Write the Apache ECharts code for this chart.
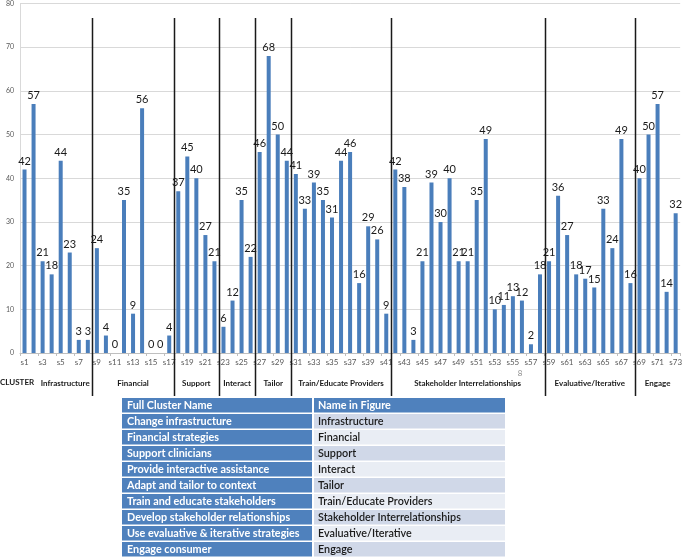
<!DOCTYPE html>
<html>
<head>
<meta charset="utf-8">
<script src="https://cdn.jsdelivr.net/npm/echarts@6/dist/echarts.min.js"></script>
<style>
html, body { margin: 0; padding: 0; background: #fff; }
#main { width: 685px; height: 557px; }
</style>
</head>
<body>
<div id="main"></div>
<script>
// strategy ids s1..s73
const categories = []
for (let i = 1; i <= 73; i++) categories.push('s' + i)

// counts per strategy
const values = [
  42, 57, 21, 18, 44, 23, 3, 3,
  24, 4, 0, 35, 9, 56, 0, 0, 4,
  37, 45, 40, 27, 21,
  6, 12, 35, 22,
  46, 68, 50, 44,
  41, 33, 39, 35, 31, 44, 46, 16, 29, 26, 9,
  42, 38, 3, 21, 39, 30, 40, 21, 21, 35, 49, 10, 11, 13, 12, 2, 18,
  21, 36, 27, 18, 17, 15, 33, 24, 49, 16,
  40, 50, 57, 14, 32
]

const clusterNames = ['Infrastructure', 'Financial', 'Support', 'Interact', 'Tailor',
  'Train/Educate Providers', 'Stakeholder Interrelationships', 'Evaluative/Iterative', 'Engage']
const clusterSizes = [8, 9, 5, 4, 4, 11, 17, 10, 5]
const fullNames = ['Change infrastructure', 'Financial strategies', 'Support clinicians',
  'Provide interactive assistance', 'Adapt and tailor to context', 'Train and educate stakeholders',
  'Develop stakeholder relationships', 'Use evaluative & iterative strategies', 'Engage consumer']

const yTicks = [0, 10, 20, 30, 40, 50, 60, 70, 80]

const chartDom = document.getElementById('main')
const myChart = echarts.init(chartDom)

const option = {
  animation: false,
  backgroundColor: '#fff',
  grid: { left: 20, right: 0, top: 3, bottom: 204 },
  xAxis: {
    type: 'category',
    data: categories,
    axisLine: { lineStyle: { color: '#bfbfbf' } },
    axisTick: { show: true, length: 3, lineStyle: { color: '#bfbfbf' } },
    axisLabel: { interval: 1, fontSize: 8, color: '#595959', margin: 5, fontFamily: 'Lato' }
  },
  yAxis: {
    type: 'value',
    min: yTicks[0],
    max: yTicks[yTicks.length - 1],
    interval: 10,
    axisLine: { show: true, lineStyle: { color: '#d9d9d9' } },
    axisTick: { show: false },
    axisLabel: { fontSize: 7, color: '#595959', margin: 6, fontFamily: 'Lato' },
    splitLine: { lineStyle: { color: '#d9d9d9' } }
  },
  series: [
    {
      type: 'bar',
      data: values,
      barWidth: 4,
      itemStyle: { color: '#4a7ebb' },
      label: {
        show: true,
        position: 'top',
        distance: 3,
        fontSize: 11,
        color: '#1a1a1a',
        fontFamily: 'Lato'
      }
    }
  ]
}
myChart.setOption(option)

// separators, cluster names and the legend table
const px = (i) => myChart.convertToPixel({ xAxisIndex: 0 }, categories[i])
const graphic = []
let start = 0
const lineTop = 18
const lineBottom = 396
const labelY = 383
graphic.push({
  type: 'text', left: 0, top: labelY - 5,
  style: { text: 'CLUSTER', font: 'bold 8px Lato', fill: '#1a1a1a' }
})
clusterSizes.forEach((n, k) => {
  const end = start + n
  let cx = (px(start) + px(end - 1)) / 2
  if (k === 0) cx = (38 + (px(end - 1) + px(end)) / 2) / 2
  graphic.push({
    type: 'text', x: cx, y: labelY,
    style: { text: clusterNames[k], font: 'bold 8px Lato', fill: '#1a1a1a', align: 'center', verticalAlign: 'middle' }
  })
  if (k < clusterSizes.length - 1) {
    const bx = Math.round((px(end - 1) + px(end)) / 2) + 0.5
    graphic.push({
      type: 'line', z: 10,
      shape: { x1: bx, y1: lineTop, x2: bx, y2: lineBottom },
      style: { stroke: '#1a1a1a', lineWidth: 1.5 }
    })
  }
  start = end
})
graphic.push({
  type: 'text', x: 520, y: 373,
  style: { text: '8', font: '8px Lato', fill: '#8c8c8c', align: 'center', verticalAlign: 'middle' }
})

// table
const tLeft = 122
const tMid = 313
const tRight = 505
const tTop = 398
const rowH = 16
const rows = [['Full Cluster Name', 'Name in Figure']].concat(fullNames.map((f, i) => [f, clusterNames[i]]))
rows.forEach((r, i) => {
  const y = tTop + i * rowH
  const rightFill = i === 0 ? '#4f81bd' : (i % 2 === 1 ? '#d0d8e8' : '#e9edf4')
  graphic.push({ type: 'rect', shape: { x: tLeft, y: y, width: tMid - tLeft - 1, height: rowH - 1.5 }, style: { fill: '#4f81bd' } })
  graphic.push({ type: 'rect', shape: { x: tMid + 1, y: y, width: tRight - tMid - 1, height: rowH - 1.5 }, style: { fill: rightFill } })
  graphic.push({
    type: 'text', x: tLeft + 5, y: y + rowH / 2,
    style: { text: r[0], font: 'bold 10.8px Lato', fill: '#fff', verticalAlign: 'middle' }
  })
  graphic.push({
    type: 'text', x: tMid + 5, y: y + rowH / 2,
    style: { text: r[1], font: (i === 0 ? 'bold ' : '600 ') + '10.8px Lato', fill: i === 0 ? '#fff' : '#1a1a1a', verticalAlign: 'middle' }
  })
})

myChart.setOption({ graphic: graphic })
</script>
</body>
</html>
